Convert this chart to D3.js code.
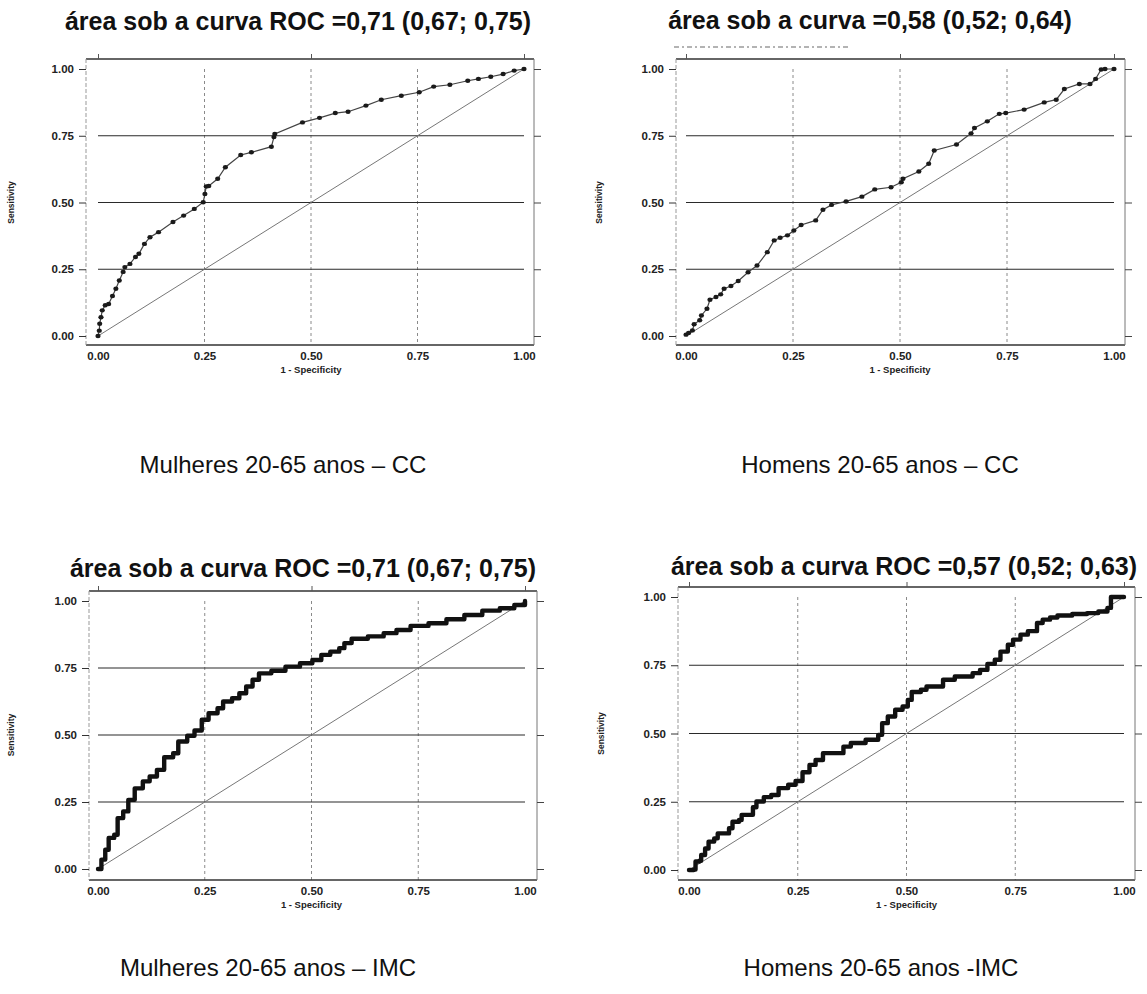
<!DOCTYPE html>
<html>
<head>
<meta charset="utf-8">
<script src="https://cdn.jsdelivr.net/npm/d3@7"></script>
<style>
  html, body { margin: 0; padding: 0; background: #fff; }
  svg { display: block; }
  text { font-family: "Liberation Sans", Arial, sans-serif; }
</style>
</head>
<body>
<svg id="chart" width="1147" height="994"></svg>
<script>
// ---------------- DATA ----------------
const tickValues = [0, 0.25, 0.5, 0.75, 1];
const gridValues = [0.25, 0.5, 0.75];

const titles = [
  "área sob a curva ROC =0,71 (0,67; 0,75)",
  "área sob a curva =0,58 (0,52; 0,64)",
  "área sob a curva ROC =0,71 (0,67; 0,75)",
  "área sob a curva ROC =0,57 (0,52; 0,63)"
];
const captions = [
  "Mulheres 20-65 anos – CC",
  "Homens 20-65 anos – CC",
  "Mulheres 20-65 anos – IMC",
  "Homens 20-65 anos -IMC"
];
const xAxisTitle = "1 - Specificity";
const yAxisTitle = "Sensitivity";

// Mulheres CC (1 - specificity, sensitivity)
const fprMulheresCC = [0, 0.003, 0.004, 0.007, 0.01, 0.017, 0.025, 0.034, 0.042, 0.05, 0.059, 0.063, 0.075, 0.088, 0.096, 0.109, 0.122, 0.142, 0.176, 0.201, 0.226, 0.247, 0.251, 0.254, 0.26, 0.281, 0.299, 0.335, 0.36, 0.407, 0.413, 0.415, 0.48, 0.52, 0.557, 0.587, 0.629, 0.665, 0.712, 0.754, 0.788, 0.826, 0.868, 0.893, 0.922, 0.951, 0.977, 1];
const tprMulheresCC = [0, 0.02, 0.046, 0.07, 0.096, 0.115, 0.12, 0.15, 0.177, 0.208, 0.24, 0.258, 0.27, 0.296, 0.308, 0.345, 0.37, 0.389, 0.427, 0.451, 0.476, 0.501, 0.532, 0.56, 0.562, 0.589, 0.632, 0.678, 0.688, 0.709, 0.745, 0.757, 0.8, 0.817, 0.835, 0.84, 0.863, 0.885, 0.9, 0.913, 0.934, 0.941, 0.956, 0.963, 0.971, 0.981, 0.994, 1];

// Homens CC
const fprHomensCC = [0, 0.006, 0.015, 0.019, 0.032, 0.036, 0.049, 0.056, 0.07, 0.081, 0.089, 0.105, 0.122, 0.145, 0.166, 0.19, 0.206, 0.22, 0.237, 0.252, 0.269, 0.303, 0.32, 0.34, 0.374, 0.411, 0.441, 0.479, 0.503, 0.507, 0.544, 0.567, 0.58, 0.632, 0.666, 0.674, 0.704, 0.732, 0.747, 0.79, 0.837, 0.865, 0.884, 0.919, 0.944, 0.957, 0.97, 0.979, 1];
const tprHomensCC = [0.005, 0.011, 0.021, 0.044, 0.059, 0.077, 0.102, 0.136, 0.146, 0.156, 0.177, 0.187, 0.206, 0.239, 0.264, 0.314, 0.358, 0.368, 0.377, 0.395, 0.416, 0.433, 0.473, 0.491, 0.504, 0.522, 0.549, 0.557, 0.576, 0.589, 0.616, 0.645, 0.695, 0.717, 0.759, 0.779, 0.804, 0.832, 0.835, 0.848, 0.875, 0.885, 0.925, 0.944, 0.944, 0.963, 0.998, 1, 1];

// Mulheres IMC
const fprMulheresIMC = [0, 0.008, 0.017, 0.025, 0.038, 0.046, 0.059, 0.071, 0.086, 0.105, 0.121, 0.138, 0.155, 0.176, 0.188, 0.209, 0.226, 0.243, 0.259, 0.28, 0.293, 0.314, 0.331, 0.347, 0.362, 0.377, 0.406, 0.439, 0.473, 0.502, 0.523, 0.544, 0.565, 0.577, 0.594, 0.632, 0.669, 0.699, 0.732, 0.774, 0.816, 0.858, 0.9, 0.941, 0.975, 1];
const tprMulheresIMC = [0, 0.035, 0.072, 0.116, 0.128, 0.19, 0.215, 0.258, 0.301, 0.327, 0.345, 0.37, 0.417, 0.432, 0.476, 0.497, 0.517, 0.557, 0.581, 0.6, 0.625, 0.637, 0.656, 0.681, 0.706, 0.73, 0.74, 0.755, 0.768, 0.78, 0.799, 0.811, 0.824, 0.843, 0.859, 0.868, 0.88, 0.892, 0.907, 0.917, 0.932, 0.948, 0.964, 0.973, 0.985, 1];

// Homens IMC
const fprHomensIMC = [0, 0.011, 0.015, 0.024, 0.028, 0.037, 0.045, 0.058, 0.066, 0.079, 0.092, 0.1, 0.115, 0.121, 0.134, 0.147, 0.155, 0.172, 0.189, 0.206, 0.228, 0.245, 0.257, 0.261, 0.277, 0.291, 0.308, 0.329, 0.346, 0.355, 0.372, 0.397, 0.406, 0.427, 0.435, 0.444, 0.457, 0.474, 0.491, 0.503, 0.512, 0.533, 0.546, 0.567, 0.584, 0.611, 0.637, 0.652, 0.669, 0.686, 0.703, 0.716, 0.733, 0.745, 0.762, 0.779, 0.8, 0.813, 0.83, 0.847, 0.881, 0.915, 0.941, 0.962, 0.97, 1];
const tprHomensIMC = [0, 0.002, 0.031, 0.034, 0.055, 0.079, 0.104, 0.116, 0.134, 0.134, 0.153, 0.177, 0.183, 0.202, 0.202, 0.23, 0.251, 0.267, 0.275, 0.3, 0.312, 0.326, 0.326, 0.358, 0.385, 0.403, 0.428, 0.428, 0.428, 0.452, 0.465, 0.465, 0.477, 0.477, 0.495, 0.538, 0.562, 0.587, 0.599, 0.623, 0.652, 0.66, 0.672, 0.672, 0.697, 0.709, 0.709, 0.721, 0.733, 0.755, 0.77, 0.8, 0.825, 0.844, 0.862, 0.875, 0.905, 0.917, 0.925, 0.932, 0.938, 0.941, 0.947, 0.96, 1, 1];

// ---------------- LAYOUT ----------------
const panels = [
  { fpr: fprMulheresCC,  tpr: tprMulheresCC,  style: "dots",
    x0: 98,  x1: 524,  y0: 336, y1: 69,  frame: [86, 534, 59, 345],
    titleX: 298, titleY: 30, capX: 283, capY: 473, yTitleX: 14 },
  { fpr: fprHomensCC,    tpr: tprHomensCC,    style: "dots",
    x0: 686, x1: 1114, y0: 336, y1: 69,  frame: [676, 1125, 59, 345],
    titleX: 870, titleY: 29, capX: 880, capY: 473, yTitleX: 602 },
  { fpr: fprMulheresIMC, tpr: tprMulheresIMC, style: "step",
    x0: 98,  x1: 525,  y0: 869, y1: 601, frame: [89, 537, 591, 880],
    titleX: 303, titleY: 577, capX: 268, capY: 976, yTitleX: 14 },
  { fpr: fprHomensIMC,   tpr: tprHomensIMC,   style: "step",
    x0: 689, x1: 1124, y0: 870, y1: 597, frame: [678, 1135, 587, 880],
    titleX: 904, titleY: 575, capX: 881, capY: 976, yTitleX: 604 }
];

const svg = d3.select("#chart");
const fmt = d3.format(".2f");

// faint scanned residue under the second title
svg.append("line").attr("x1", 674).attr("x2", 850).attr("y1", 47).attr("y2", 47)
  .attr("stroke", "#9a9a9a").attr("stroke-width", 1.6).attr("stroke-dasharray", "5,3,2,3");

panels.forEach((p, i) => {
  const x = d3.scaleLinear().domain([0, 1]).range([p.x0, p.x1]);
  const y = d3.scaleLinear().domain([0, 1]).range([p.y0, p.y1]);
  const [fl, fr, ft, fb] = p.frame;
  const g = svg.append("g");

  // vertical grid (dashed, light)
  g.selectAll(".vg").data(gridValues).join("line")
    .attr("x1", d => x(d)).attr("x2", d => x(d))
    .attr("y1", y(1)).attr("y2", fb)
    .attr("stroke", "#8a8a8a").attr("stroke-width", 1)
    .attr("stroke-dasharray", "3,3");
  // horizontal grid (solid, dark)
  g.selectAll(".hg").data(gridValues).join("line")
    .attr("x1", x(0)).attr("x2", x(1))
    .attr("y1", d => y(d)).attr("y2", d => y(d))
    .attr("stroke", "#2a2a2a").attr("stroke-width", 1.1);

  // frame
  g.append("line").attr("x1", fl).attr("x2", fr).attr("y1", ft).attr("y2", ft)
    .attr("stroke", "#333").attr("stroke-width", 1.3);
  g.append("line").attr("x1", fl).attr("x2", fr).attr("y1", fb).attr("y2", fb)
    .attr("stroke", "#333").attr("stroke-width", 1.3);
  g.append("line").attr("x1", fl).attr("x2", fl).attr("y1", ft).attr("y2", fb)
    .attr("stroke", "#999").attr("stroke-width", 1).attr("stroke-dasharray", "4,2");
  g.append("line").attr("x1", fr).attr("x2", fr).attr("y1", ft).attr("y2", fb)
    .attr("stroke", "#777").attr("stroke-width", 1);

  // left axis (ticks + labels)
  const yAxis = d3.axisLeft(y).tickValues(tickValues).tickFormat(fmt)
    .tickSize(7).tickPadding(5);
  const ya = g.append("g").attr("transform", `translate(${fl},0)`).call(yAxis);
  ya.select(".domain").remove();
  ya.selectAll("line").attr("stroke", "#333");
  ya.selectAll("text").attr("font-size", 11.5).attr("font-weight", "bold").attr("fill", "#222");

  // right ticks
  const yAxisR = d3.axisRight(y).tickValues(tickValues).tickFormat("").tickSize(7);
  const yr = g.append("g").attr("transform", `translate(${fr},0)`).call(yAxisR);
  yr.select(".domain").remove();
  yr.selectAll("line").attr("stroke", "#444");

  // bottom axis labels
  const xAxis = d3.axisBottom(x).tickValues(tickValues).tickFormat(fmt)
    .tickSize(0).tickPadding(7);
  const xa = g.append("g").attr("transform", `translate(0,${fb})`).call(xAxis);
  xa.select(".domain").remove();
  xa.selectAll("text").attr("font-size", 11.5).attr("font-weight", "bold").attr("fill", "#222");

  // top ticks
  const xAxisT = d3.axisTop(x).tickValues([0, 0.5, 1]).tickFormat("").tickSize(5);
  const xt = g.append("g").attr("transform", `translate(0,${ft})`).call(xAxisT);
  xt.select(".domain").remove();
  xt.selectAll("line").attr("stroke", "#555");

  // axis titles
  g.append("text").attr("x", x(0.5)).attr("y", fb + 28)
    .attr("text-anchor", "middle").attr("font-size", 9.5).attr("font-weight", "bold")
    .attr("fill", "#222").text(xAxisTitle);
  g.append("text")
    .attr("transform", `translate(${p.yTitleX},${(p.y0 + p.y1) / 2}) rotate(-90)`)
    .attr("text-anchor", "middle").attr("font-size", 8.5).attr("font-weight", "bold")
    .attr("fill", "#222").text(yAxisTitle);

  // reference diagonal
  g.append("line").attr("x1", x(0)).attr("y1", y(0)).attr("x2", x(1)).attr("y2", y(1))
    .attr("stroke", "#777").attr("stroke-width", 1);

  // ROC curve
  const pts = p.fpr.map((v, k) => [v, p.tpr[k]]);
  if (p.style === "dots") {
    const line = d3.line().x(d => x(d[0])).y(d => y(d[1]));
    g.append("path").attr("d", line(pts)).attr("fill", "none")
      .attr("stroke", "#444").attr("stroke-width", 1.2);
    g.selectAll(".pt").data(pts).join("ellipse")
      .attr("cx", d => x(d[0])).attr("cy", d => y(d[1]))
      .attr("rx", 2.6).attr("ry", 2.2).attr("fill", "#1a1a1a");
  } else {
    const line = d3.line().x(d => x(d[0])).y(d => y(d[1])).curve(d3.curveStepAfter);
    g.append("path").attr("d", line(pts)).attr("fill", "none")
      .attr("stroke", "#111").attr("stroke-width", 4.4)
      .attr("stroke-linejoin", "round").attr("stroke-linecap", "round");
  }

  // title
  svg.append("text").attr("x", p.titleX).attr("y", p.titleY)
    .attr("text-anchor", "middle").attr("font-size", 25).attr("font-weight", "bold")
    .attr("fill", "#111").text(titles[i]);
  // caption
  svg.append("text").attr("x", p.capX).attr("y", p.capY)
    .attr("text-anchor", "middle").attr("font-size", 24)
    .attr("fill", "#111").text(captions[i]);
});
</script>
</body>
</html>
